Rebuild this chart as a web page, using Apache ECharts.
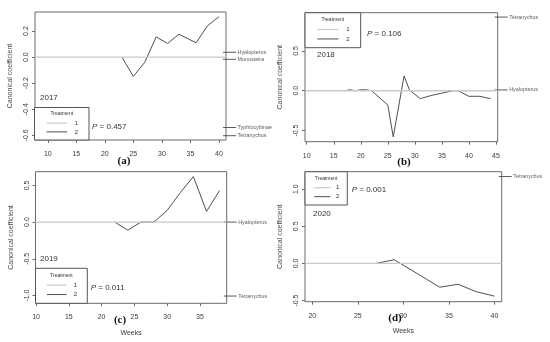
<!DOCTYPE html>
<html><head><meta charset="utf-8">
<script src="https://cdn.jsdelivr.net/npm/echarts@6/dist/echarts.min.js"></script>
<style>html,body{margin:0;padding:0;background:#fff}#c{width:550px;height:342px}</style>
</head><body><div id="c"></div>
<script>
// ---------- data ----------
const weeksA = [23, 25, 27, 29, 31, 33, 36, 38, 40];
const coefA  = [0, -0.148, -0.04, 0.155, 0.105, 0.175, 0.11, 0.24, 0.31];
const weeksB = [17, 18, 19, 20, 21, 22, 25, 26, 28, 29, 31, 33, 35, 37, 38, 40, 42, 44];
const coefB  = [0, 0.012, 0, 0.012, 0.012, 0, -0.18, -0.58, 0.185, 0.01, -0.1, -0.06, -0.03, 0, 0, -0.07, -0.07, -0.1];
const weeksC = [22, 24, 26, 28, 30, 32, 34, 36, 38];
const coefC  = [0, -0.11, 0, 0, 0.16, 0.4, 0.62, 0.145, 0.43];
const weeksD = [27, 29, 34, 36, 38, 40];
const coefD  = [0, 0.05, -0.32, -0.28, -0.38, -0.44];

const speciesA = ['Hyalopterus', 'Monosteira', 'Typhlocybinae', 'Tetranychus'];
const scoresA  = [0.037, -0.017, -0.54, -0.603];
const speciesB = ['Tetranychus', 'Hyalopterus'];
const scoresB  = [0.925, 0.01];
const speciesC = ['Hyalopterus', 'Tetranychus'];
const scoresC  = [0, -1.007];
const speciesD = ['Tetranychus'];
const scoresD  = [1.17];

const xTicksA = [10, 15, 20, 25, 30, 35, 40];
const yTicksA = [-0.6, -0.4, -0.2, 0, 0.2];
const xTicksB = [10, 15, 20, 25, 30, 35, 40, 45];
const yTicksB = [-0.5, 0, 0.5];
const xTicksC = [10, 15, 20, 25, 30, 35];
const yTicksC = [-1, -0.5, 0, 0.5];
const xTicksD = [20, 25, 30, 35, 40];
const yTicksD = [-0.5, 0, 0.5, 1];

const years = ['2017', '2018', '2019', '2020'];
const pValues = ['0.457', '0.106', '0.011', '0.001'];
const panelTags = ['(a)', '(b)', '(c)', '(d)'];
const treatments = ['1', '2'];
const legendTitle = 'Treatment';
const yTitle = 'Canonical coefficient';
const xTitle = 'Weeks';

// ---------- layout (style only) ----------
const panels = [
  {box:[35, 12, 226, 140], xlim:[7.76, 41.24], ylim:[-0.636, 0.346], weeks:weeksA, coef:coefA, sp:speciesA, sc:scoresA, xt:xTicksA, yt:yTicksA, xname:'',
   leg:[34.5, 107.5, 89, 140], year:[40, 98], p:[92, 127], tag:[124, 161]},
  {box:[305, 12.7, 497.7, 141.7], xlim:[9.68, 45.32], ylim:[-0.64, 0.98], weeks:weeksB, coef:coefB, sp:speciesB, sc:scoresB, xt:xTicksB, yt:yTicksB, xname:'',
   leg:[305, 12.7, 360.7, 47.7], year:[317, 55], p:[367, 33.3], tag:[404, 162]},
  {box:[35.5, 171.7, 226.7, 303.3], xlim:[9.92, 39.08], ylim:[-1.106, 0.686], weeks:weeksC, coef:coefC, sp:speciesC, sc:scoresC, xt:xTicksC, yt:yTicksC, xname:xTitle,
   leg:[35.5, 268.3, 87.3, 303.3], year:[40, 258.3], p:[90.7, 287.7], tag:[120, 320]},
  {box:[305, 171.7, 501.7, 301.7], xlim:[19.2, 40.8], ylim:[-0.515, 1.235], weeks:weeksD, coef:coefD, sp:speciesD, sc:scoresD, xt:xTicksD, yt:yTicksD, xname:xTitle,
   leg:[305, 171.7, 347.3, 205], year:[313, 214], p:[351.7, 189.3], tag:[395, 318]}
];

const FONT = 'Liberation Sans, Arial, sans-serif';
const grid = [], xAxis = [], yAxis = [], series = [], graphic = [];

panels.forEach((P, i) => {
  const [l, t, r, b] = P.box;
  const s = 4 + i; // species grid index
  grid[i] = {left:l, top:t, width:r - l, height:b - t, show:true, borderColor:'#6a6a6a', borderWidth:1, backgroundColor:'transparent'};
  xAxis[i] = {
    type:'value', gridIndex:i, min:P.xlim[0], max:P.xlim[1], position:'bottom',
    axisLine:{show:false, onZero:false}, splitLine:{show:false},
    axisTick:{show:true, length:3, customValues:P.xt, lineStyle:{color:'#6a6a6a'}},
    axisLabel:{show:true, customValues:P.xt, margin:10.5, fontSize:7, color:'#3a3a3a', fontFamily:FONT},
    name:P.xname, nameLocation:'middle', nameGap:26, nameTextStyle:{fontSize:7, color:'#3a3a3a', fontFamily:FONT}
  };
  yAxis[i] = {
    type:'value', gridIndex:i, min:P.ylim[0], max:P.ylim[1], position:'left',
    axisLine:{show:false, onZero:false}, splitLine:{show:false},
    axisTick:{show:true, length:3, customValues:P.yt, lineStyle:{color:'#6a6a6a'}},
    axisLabel:{show:true, customValues:P.yt, rotate:90, margin:5, fontSize:7, color:'#3a3a3a', fontFamily:FONT,
               formatter:v => v.toFixed(1)},
    name:yTitle, nameLocation:'middle', nameGap:21, nameRotate:90, nameTextStyle:{fontSize:7, color:'#4a4a4a', fontFamily:FONT}
  };
  grid[s] = {left:r - 3, top:t, width:13, height:b - t, show:false};
  xAxis[s] = {type:'value', gridIndex:s, min:0, max:1, show:false};
  yAxis[s] = {type:'value', gridIndex:s, min:P.ylim[0], max:P.ylim[1], show:false};

  // treatment 2
  series.push({
    type:'line', name:treatments[1], xAxisIndex:i, yAxisIndex:i, z:2,
    data:P.weeks.map((w, k) => [w, P.coef[k]]),
    showSymbol:false, symbol:'none', lineStyle:{color:'#505050', width:1}, clip:false, animation:false
  });
  // treatment 1 (reference, zero line spanning the axis range)
  series.push({
    type:'line', name:treatments[0], xAxisIndex:i, yAxisIndex:i, z:4, animation:false,
    data:[[P.xlim[0], 0], [P.xlim[1], 0]],
    showSymbol:false, symbol:'none', lineStyle:{color:'#cacaca', width:1.3}
  });
  // species scores
  series.push({
    type:'scatter', xAxisIndex:s, yAxisIndex:s, animation:false, clip:false,
    data:P.sp.map((n, k) => ({name:n, value:[0.5, P.sc[k]]})),
    symbol:'rect', symbolSize:[13, 1], itemStyle:{color:'#333'},
    label:{show:true, position:'right', distance:1.5, formatter:p => p.name, fontSize:5.4, color:'#333', fontFamily:FONT}
  });

  const [ll, lt, lr, lb] = P.leg;
  graphic.push({type:'rect', shape:{x:ll, y:lt, width:lr - ll, height:lb - lt}, style:{fill:'#fff', stroke:'#555', lineWidth:1}, z:10});
  const h = lb - lt;
  const cx = (ll + lr) / 2;
  graphic.push({type:'text', x:cx, y:lt + h * 0.2, style:{text:legendTitle, font:'5px ' + FONT, fill:'#333', align:'center', verticalAlign:'middle'}, z:11});
  const lx0 = ll + (lr - ll) * 0.22, lx1 = ll + (lr - ll) * 0.6, tx = ll + (lr - ll) * 0.77;
  const y1 = lt + h * 0.48, y2 = lt + h * 0.75;
  graphic.push({type:'line', shape:{x1:lx0, y1:y1, x2:lx1, y2:y1}, style:{stroke:'#cacaca', lineWidth:1.2}, z:11});
  graphic.push({type:'line', shape:{x1:lx0, y1:y2, x2:lx1, y2:y2}, style:{stroke:'#505050', lineWidth:1}, z:11});
  graphic.push({type:'text', x:tx, y:y1, style:{text:treatments[0], font:'6px ' + FONT, fill:'#333', align:'center', verticalAlign:'middle'}, z:11});
  graphic.push({type:'text', x:tx, y:y2, style:{text:treatments[1], font:'6px ' + FONT, fill:'#333', align:'center', verticalAlign:'middle'}, z:11});

  graphic.push({type:'text', x:P.year[0], y:P.year[1], style:{text:years[i], font:'8px ' + FONT, fill:'#333', verticalAlign:'middle'}, z:11});
  graphic.push({type:'text', x:P.p[0], y:P.p[1], style:{text:'{i|P} = ' + pValues[i], font:'8px ' + FONT, fill:'#333', verticalAlign:'middle',
     rich:{i:{fontStyle:'italic', fontSize:8, fontFamily:FONT, fill:'#333'}}}, z:11});
  graphic.push({type:'text', x:P.tag[0], y:P.tag[1], style:{text:panelTags[i], font:'bold 11px "Liberation Serif", "DejaVu Serif", serif', fill:'#111', align:'center', verticalAlign:'middle'}, z:11});
});

const chart = echarts.init(document.getElementById('c'), null, {renderer:'canvas'});
chart.setOption({animation:false, backgroundColor:'#fff', grid, xAxis, yAxis, series, graphic});
</script>
</body></html>
